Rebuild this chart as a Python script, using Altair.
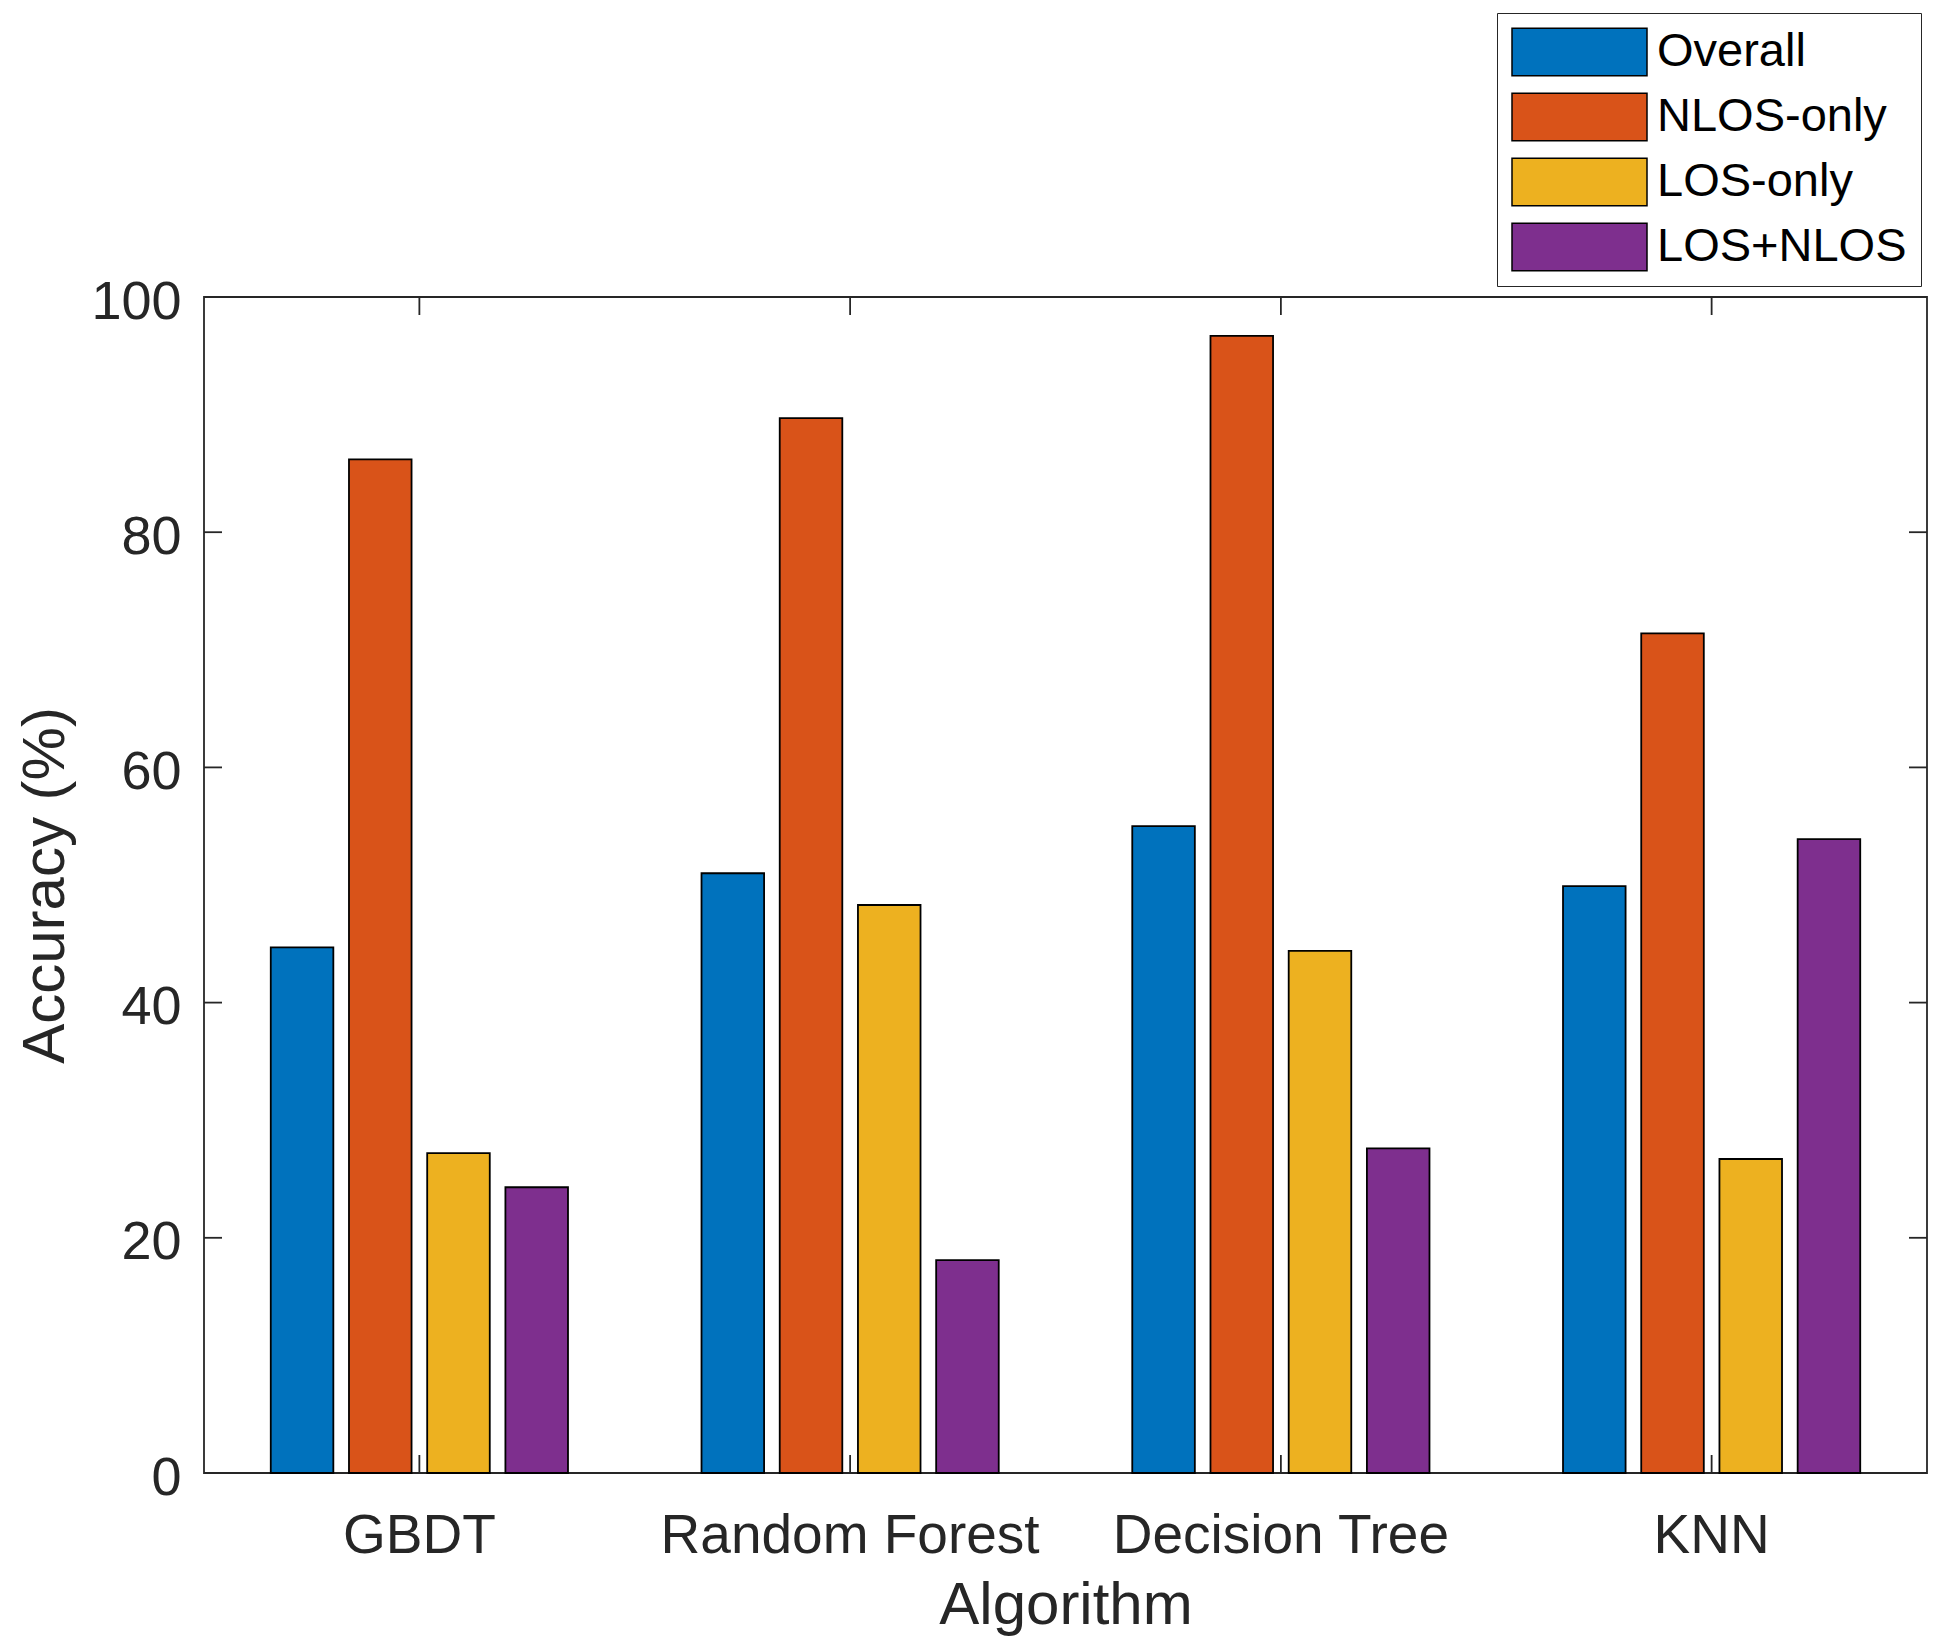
import altair as alt
import pandas as pd

# ---- data ----
algorithms = ["GBDT", "Random Forest", "Decision Tree", "KNN"]
series = ["Overall", "NLOS-only", "LOS-only", "LOS+NLOS"]
overall = [44.7, 51.0, 55.0, 49.9]
nlos_only = [86.2, 89.7, 96.7, 71.4]
los_only = [27.2, 48.3, 44.4, 26.7]
los_nlos = [24.3, 18.1, 27.6, 53.9]
colors = ["#0072BD", "#D95319", "#EDB120", "#7E2F8E"]
y_ticks = [0, 20, 40, 60, 80, 100]

rows = []
for name, vals in zip(series, [overall, nlos_only, los_only, los_nlos]):
    for alg, v in zip(algorithms, vals):
        rows.append({"Algorithm": alg, "Series": name, "Accuracy": v})
df = pd.DataFrame(rows)
ydf = pd.DataFrame({"Accuracy": y_ticks})
xdf = pd.DataFrame({"Algorithm": algorithms})

FONT = "Liberation Sans"
INK = "#262626"
W, H = 1723, 1176
TICK = 18

x_scale = alt.Scale(domain=algorithms, paddingInner=0.31, paddingOuter=0.155)
y_scale = alt.Scale(domain=[0, 100], nice=False)

x_axis = alt.Axis(
    title="Algorithm", labelAngle=0, domain=False, ticks=False, tickSize=0, grid=False,
    labelPadding=36, labelFontSize=55, titleFontSize=60, titlePadding=13, labelLimit=800,
    labelFont=FONT, titleFont=FONT, labelColor=INK, titleColor=INK,
    titleFontWeight="normal",
)
y_axis = alt.Axis(
    title="Accuracy (%)", values=y_ticks, domain=False, ticks=False, tickSize=0, grid=False,
    labelPadding=23, labelFontSize=54, titleFontSize=60, titlePadding=14, labelOffset=5,
    labelFont=FONT, titleFont=FONT, labelColor=INK, titleColor=INK,
    titleFontWeight="normal",
)

legend = alt.Legend(
    orient="none", legendX=1293, legendY=-284,
    padding=14, strokeColor=INK, fillColor="white",
    symbolType="M-1,-0.352L1,-0.352L1,0.352L-1,0.352Z", symbolSize=18225,
    symbolStrokeColor="black", symbolStrokeWidth=1.5, symbolOpacity=1,
    clipHeight=50, rowPadding=15,
    labelFont=FONT, labelFontSize=47, labelColor="black", labelLimit=600, labelOffset=9,
)

tick_style = dict(color=INK, strokeWidth=1.8)

X = alt.X("Algorithm:N", scale=x_scale, axis=x_axis, sort=algorithms)
Y = alt.Y("Accuracy:Q", scale=y_scale, axis=y_axis)

left_ticks = alt.Chart(ydf).mark_rule(**tick_style).encode(
    y=Y, x=alt.value(0), x2=alt.value(TICK)
)
right_ticks = alt.Chart(ydf).mark_rule(**tick_style).encode(
    y=Y, x=alt.value(W - TICK), x2=alt.value(W)
)
bottom_ticks = alt.Chart(xdf).mark_rule(**tick_style).encode(
    x=X, y=alt.value(H - TICK), y2=alt.value(H)
)
top_ticks = alt.Chart(xdf).mark_rule(**tick_style).encode(
    x=X, y=alt.value(0), y2=alt.value(TICK)
)

bars = alt.Chart(df).mark_bar(stroke="black", strokeWidth=1.8).encode(
    x=X,
    xOffset=alt.XOffset("Series:N", scale=alt.Scale(domain=series, paddingInner=0.2, paddingOuter=0), sort=series),
    y=Y,
    color=alt.Color("Series:N", scale=alt.Scale(domain=series, range=colors), legend=legend, title=None),
)

chart = (
    alt.layer(left_ticks, right_ticks, bottom_ticks, top_ticks, bars)
    .properties(
        width=W, height=H,
        autosize=alt.AutoSizeParams(type="none"),
        padding={"left": 196, "top": 289, "right": 6, "bottom": 164},
        background="white",
    )
    .configure_view(stroke=INK, strokeWidth=1.8)
)

chart.save("out.html", embed_options={"renderer": "svg", "actions": False})
